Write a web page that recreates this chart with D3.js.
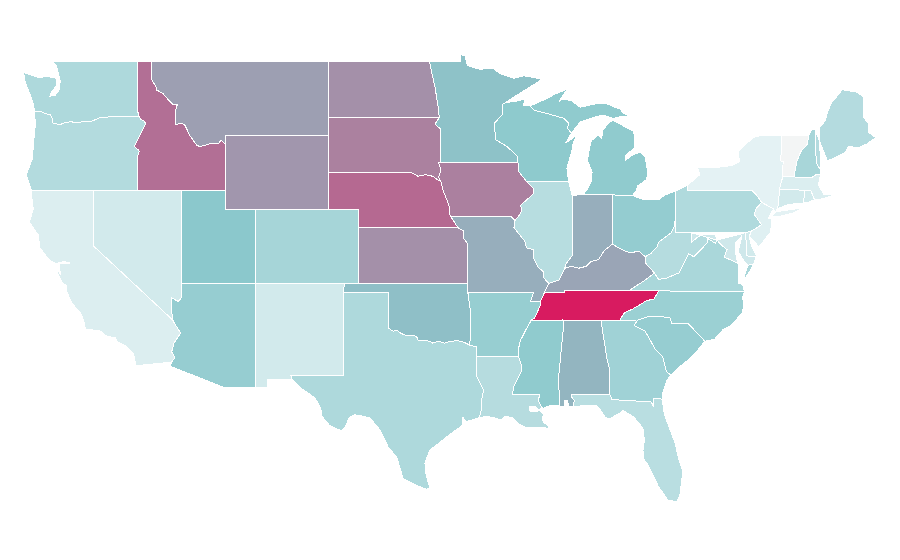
<!DOCTYPE html>
<html>
<head>
<meta charset="utf-8">
<script src="https://cdn.jsdelivr.net/npm/d3@7"></script>
<style>
html, body { margin: 0; padding: 0; background: #fff; }
svg { display: block; }
</style>
</head>
<body>
<svg id="map" width="900" height="560"></svg>
<script>
// values per state
const stateCodes = ['WA','OR','CA','NV','ID','MT','WY','UT','CO','AZ','NM','ND','SD','NE','KS','OK','TX','MN','IA','MO','AR','LA','WI','IL','IN','MI','OH','KY','TN','MS','AL','GA','FL','SC','NC','VA','WV','MD','DE','PA','NJ','NY','CT','RI','MA','VT','NH','ME'];
const stateValues = [13.4,12.6,4.9,6.7,61,39,43,20,15,18,6.7,46,53,64,46,24,13.4,22.8,53.5,32,17.8,12,19.4,11.7,32,19,18.4,36,100,19,28.8,16,11.4,18,17,14.2,12.2,7.3,6.7,13,4.3,3.4,6.7,6.7,5,0.4,14.6,12.3];
const colorStops = [0, 3, 20, 100];
const colorRange = ['#f5f5f5', '#e6f3f5', '#8bc8cc', '#d81b60'];

// shared borders, lon/lat
const waCoast = [[-123.98,46.25],[-124.1,46.7],[-124.2,47.0],[-124.65,47.9],[-124.73,48.38],[-123.77,48.12],[-123.1,48.15],[-122.55,48.1],[-122.5,47.7],[-122.9,47.25],[-122.95,47.1],[-122.6,47.15],[-122.35,47.4],[-122.25,47.9],[-122.5,48.7],[-122.76,49]];
const orCoast = [[-124.2,42],[-124.55,42.85],[-124.15,43.7],[-124.05,44.7],[-123.95,45.5],[-123.98,46.25]];
const caCoast = [[-117.12,32.53],[-117.3,33.2],[-117.85,33.6],[-118.43,33.85],[-118.5,34.03],[-119.2,34.15],[-119.56,34.42],[-120.55,34.5],[-120.65,34.9],[-120.85,35.35],[-121.45,35.9],[-121.8,36.5],[-121.8,36.85],[-122.05,36.95],[-122.4,37.45],[-122.5,37.75],[-122.25,37.5],[-122.3,37.9],[-122.3,38.05],[-121.6,38.08],[-122.0,38.17],[-122.5,38.05],[-122.95,38.2],[-123.63,38.9],[-123.75,39.6],[-124.35,40.3],[-124.08,41],[-124.2,41.75],[-124.2,42]];
const columbia = [[-123.98,46.25],[-123.55,46.26],[-123.4,46.2],[-123.2,46.15],[-122.9,46.08],[-122.8,45.9],[-122.75,45.65],[-122.3,45.55],[-121.9,45.68],[-121.5,45.72],[-121.2,45.65],[-120.65,45.73],[-120.2,45.72],[-119.6,45.92],[-119.1,45.93],[-118.98,46.0],[-116.92,46.0]];
const snake = [[-116.92,46.0],[-116.78,45.83],[-116.55,45.75],[-116.46,45.6],[-116.67,45.3],[-116.85,45.0],[-117.23,44.4],[-117.05,44.23],[-116.95,44.2],[-116.9,44.1],[-117.03,43.83],[-117.03,42]];
const idMt = [[-116.05,49],[-116.05,48],[-115.7,47.5],[-115.7,47.42],[-115.3,47.25],[-114.95,46.93],[-114.6,46.64],[-114.32,46.65],[-114.47,46.2],[-114.45,45.55],[-114.0,45.65],[-113.8,45.52],[-113.45,44.95],[-113.0,44.45],[-112.8,44.37],[-112.4,44.45],[-112.0,44.55],[-111.5,44.55],[-111.35,44.73],[-111.05,44.47]];
const azNv = [[-114.04,37],[-114.04,36.2],[-114.25,36.0],[-114.7,36.2],[-114.7,35.45],[-114.63,35.0]];
const azCa = [[-114.63,35.0],[-114.5,34.8],[-114.09,34.3],[-114.54,33.75],[-114.7,33.28],[-114.47,32.95],[-114.72,32.72]];
const redRiver = [[-97.23,49],[-97.1,48.5],[-96.85,47.6],[-96.6,46.35],[-96.56,45.94]];
const sdMn = [[-96.56,45.94],[-96.85,45.6],[-96.45,45.3],[-96.45,43.5]];
const sdIa = [[-96.45,43.5],[-96.6,43.5],[-96.45,43.1],[-96.6,42.7],[-96.45,42.49]];
const neNorth = [[-98.5,43],[-98.0,42.77],[-97.5,42.85],[-97.0,42.77],[-96.7,42.6],[-96.45,42.49]];
const nwIowa = [[-96.45,42.49],[-96.3,42.0],[-96.1,41.6],[-95.9,41.2],[-95.85,40.7],[-95.77,40.58]];
const moKs = [[-95.3,40],[-94.9,39.8],[-94.9,39.4],[-94.61,39.11],[-94.62,37]];
const okTx = [[-100,34.56],[-99.7,34.4],[-99.4,34.42],[-99.2,34.3],[-98.95,34.2],[-98.6,34.15],[-98.1,34.13],[-98.0,33.9],[-97.6,33.9],[-97.2,33.85],[-97.0,33.75],[-96.6,33.85],[-96.2,33.75],[-95.8,33.85],[-95.3,33.88],[-94.9,33.8],[-94.48,33.64]];
const txLa = [[-94.04,33.02],[-94.04,32],[-93.8,31.6],[-93.55,31.2],[-93.7,30.6],[-93.72,30.1],[-93.85,29.72]];
const txCoast = [[-93.85,29.72],[-94.75,29.5],[-94.95,29.75],[-95.0,29.3],[-96.05,28.69],[-96.8,28.2],[-97.2,27.97],[-97.53,27.27],[-97.45,26.6],[-97.2,25.93]];
const rioGrande = [[-97.2,25.93],[-97.4,25.85],[-98.1,26.05],[-99,26.42],[-99.45,27.6],[-100.0,28.1],[-100.57,29.05],[-101.25,29.7],[-101.6,29.78],[-102.3,29.88],[-102.7,29.7],[-102.9,29.25],[-103.17,29.02],[-103.5,29.1],[-104.0,29.3],[-104.5,29.78],[-104.6,30.25],[-105,30.8],[-105.9,31.3],[-106.53,31.78]];
const mnWi = [[-92.05,46.75],[-92.3,46.65],[-92.3,46.1],[-92.85,45.6],[-92.75,45.0],[-92.75,44.75],[-92.0,44.4],[-91.25,43.85],[-91.22,43.5]];
const wiIa = [[-91.22,43.5],[-91.15,43.0],[-90.65,42.5]];
const ilIa = [[-90.65,42.5],[-90.15,42.1],[-90.2,41.8],[-91.05,41.2],[-90.95,40.95],[-91.1,40.7],[-91.42,40.38]];
const moIl = [[-91.42,40.38],[-91.5,40.0],[-90.75,39.25],[-90.65,38.9],[-90.15,38.8],[-90.2,38.4],[-89.9,37.9],[-89.5,37.6],[-89.5,37.3],[-89.13,36.98]];
const arMs = [[-90.3,35],[-90.6,34.6],[-91.05,33.9],[-91.2,33.4],[-91.17,33]];
const laMs = [[-91.17,33],[-91.0,32.6],[-90.95,32.3],[-91.5,31.4],[-91.6,31.0],[-89.73,31.0],[-89.85,30.65],[-89.55,30.2]];
const laCoast = [[-89.55,30.2],[-89.85,30.18],[-90.1,30.35],[-90.45,30.3],[-90.4,30.08],[-90.0,30.05],[-89.75,30.1],[-89.45,29.9],[-89.6,29.7],[-89.45,29.45],[-89.2,29.3],[-89.05,29.1],[-89.5,29.2],[-90.0,29.2],[-90.75,29.2],[-91.2,29.4],[-91.55,29.7],[-92.1,29.8],[-92.33,29.6],[-92.9,29.72],[-93.34,29.8],[-93.85,29.72]];
const msCoast = [[-89.55,30.2],[-89.3,30.3],[-88.9,30.4],[-88.4,30.35]];
const msAl = [[-88.2,35],[-88.1,34.9],[-88.47,31.9],[-88.4,30.35]];
const alCoast = [[-88.4,30.35],[-88.1,30.35],[-88.05,30.65],[-87.9,30.65],[-87.75,30.3],[-87.5,30.3]];
const alFl = [[-87.5,30.3],[-87.4,30.65],[-87.6,30.85],[-87.6,31],[-85,31]];
const alGa = [[-85.6,34.98],[-85.18,32.87],[-85.0,32.3],[-85.05,31.55],[-85,31]];
const gaFl = [[-85,31],[-84.86,30.7],[-82.2,30.57],[-82.05,30.36],[-82.02,30.78],[-81.45,30.72]];
const flCoast = [[-87.5,30.3],[-86.5,30.4],[-85.9,30.4],[-85.6,30.1],[-85.3,29.75],[-85.05,29.65],[-84.35,29.95],[-84.1,30.1],[-83.4,29.78],[-82.75,29.15],[-82.65,28.5],[-82.75,27.97],[-82.7,27.5],[-82.4,27.15],[-81.7,26],[-81.05,25.26],[-80.46,25.18],[-80.25,25.5],[-80.05,26.8],[-80.4,27.7],[-80.55,28.3],[-80.9,29.05],[-81.3,29.9],[-81.45,30.72]];
const gaCoast = [[-81.45,30.72],[-81.4,31.1],[-81.15,31.7],[-80.85,32.03]];
const gaSc = [[-83.11,35],[-83.35,34.7],[-82.6,34.4],[-81.9,33.4],[-81.4,33.0],[-81.15,32.2],[-80.85,32.03]];
const scCoast = [[-80.85,32.03],[-80.45,32.35],[-79.9,32.7],[-79.25,33.15],[-78.55,33.85]];
const ncSc = [[-78.55,33.85],[-79.67,34.8],[-80.8,34.82],[-80.9,35.1],[-81.05,35.15],[-82.3,35.2],[-83.11,35]];
const ncTn = [[-84.32,34.99],[-84.0,35.4],[-83.5,35.57],[-83.0,35.8],[-82.5,36.05],[-82.0,36.13],[-81.68,36.59]];
const ncCoast = [[-75.87,36.55],[-76.0,36.2],[-75.9,35.9],[-76.0,35.4],[-76.5,34.95],[-76.9,34.65],[-77.3,34.5],[-77.9,33.95],[-78.55,33.85]];
const kyTn = [[-81.68,36.59],[-83.68,36.6],[-86,36.62],[-88.07,36.62],[-88.07,36.5],[-89.42,36.5]];
const ilKy = [[-89.13,36.98],[-88.45,37.15],[-88.05,37.8]];
const inKy = [[-88.05,37.8],[-87.6,37.9],[-87.1,37.8],[-86.6,37.9],[-86.3,38.15],[-85.75,38.27],[-85.4,38.73],[-84.82,39.1]];
const ohKy = [[-84.82,39.1],[-84.3,38.85],[-83.65,38.63],[-83.0,38.72],[-82.6,38.42]];
const kyWv = [[-82.6,38.42],[-82.6,38.1],[-81.97,37.54]];
const kyVa = [[-81.97,37.54],[-82.7,37.1],[-83.68,36.6]];
const ilIn = [[-88.05,37.8],[-87.95,38.05],[-87.53,38.5],[-87.5,39.35],[-87.53,41.7]];
const ohLake = [[-83.45,41.73],[-82.7,41.5],[-81.7,41.5],[-81.25,41.76],[-80.52,41.98]];
const ohWv = [[-80.52,40.64],[-80.65,40.0],[-80.85,39.7],[-81.7,39.2],[-81.75,39.0],[-82.2,38.6],[-82.6,38.42]];
const paEast = [[-75.35,42],[-75.05,41.75],[-74.7,41.36],[-75.1,41.0],[-75.2,40.7],[-74.7,40.15],[-75.4,39.8]];
const wvVa = [[-77.72,39.32],[-77.83,39.14],[-78.35,39.4],[-78.4,39.17],[-78.85,38.77],[-79.3,38.42],[-79.65,38.58],[-80.3,37.55],[-81.22,37.24],[-81.7,37.2],[-81.97,37.54]];
const wvMd = [[-79.48,39.72],[-79.48,39.2],[-79.05,39.47],[-78.75,39.6],[-78.35,39.65],[-77.83,39.6],[-77.72,39.32]];
const potomac = [[-77.72,39.32],[-77.5,39.1],[-77.05,38.8],[-77.25,38.4],[-76.95,38.3],[-76.3,38.05]];
const deWest = [[-75.79,39.72],[-75.7,38.46],[-75.05,38.45]];
const deBay = [[-75.05,38.45],[-75.4,39.05],[-75.55,39.5],[-75.4,39.8]];
const nyVt = [[-73.35,45],[-73.35,44.2],[-73.43,43.6],[-73.25,43.55],[-73.27,42.75]];
const vtNh = [[-71.5,45],[-71.6,44.5],[-72.05,44.1],[-72.3,43.6],[-72.45,43.0],[-72.46,42.73]];
const nhMe = [[-70.7,43.08],[-71.0,43.5],[-71.08,45.3]];
const nhMa = [[-72.46,42.73],[-71.3,42.7],[-71.0,42.87],[-70.7,42.87]];
const miWi = [[-90.4,46.57],[-90.1,46.33],[-89.1,46.13],[-88.1,45.9],[-87.8,45.65],[-87.85,45.35],[-87.6,45.1]];

const rev = arc => arc.slice().reverse();
const ring = (...parts) => parts.flat();

// outlines of the states, each a list of rings
const stateRings = {
  WA: [ring(waCoast, [[-117.04,49],[-117.04,46.42]], rev(columbia))],
  OR: [ring(orCoast, columbia, snake, [[-120,42]])],
  CA: [ring(caCoast, [[-120,42],[-120,39]], azCa)],
  NV: [ring([[-120,42],[-114.04,42]], azNv, [[-120,39]])],
  ID: [ring([[-117.04,49]], idMt, [[-111.05,42]], rev(snake), [[-117.04,46.42]])],
  MT: [ring([[-104.05,49],[-104.05,45],[-111.05,45]], rev(idMt))],
  WY: [[[-111.05,45],[-104.05,45],[-104.05,41],[-111.05,41]]],
  UT: [[[-114.04,42],[-111.05,42],[-111.05,41],[-109.05,41],[-109.05,37],[-114.04,37]]],
  CO: [[[-109.05,41],[-102.05,41],[-102.05,37],[-109.05,37]]],
  AZ: [ring([[-114.04,37],[-109.05,37],[-109.05,31.33],[-111.07,31.33],[-114.8,32.5]], rev(azCa), rev(azNv))],
  NM: [[[-109.05,37],[-103,37],[-103.04,36.5],[-103.06,32],[-106.62,32],[-106.53,31.78],[-108.2,31.78],[-108.2,31.33],[-109.05,31.33]]],
  ND: [ring([[-104.05,49]], redRiver, [[-104.05,45.94]])],
  SD: [ring([[-104.05,45.94]], sdMn, sdIa, rev(neNorth), [[-104.05,43]])],
  NE: [ring([[-104.05,43]], neNorth, nwIowa, [[-95.3,40],[-102.05,40],[-102.05,41],[-104.05,41]])],
  KS: [ring([[-102.05,40]], moKs, [[-102.05,37]])],
  OK: [ring([[-103,37],[-94.62,37],[-94.62,36.5],[-94.43,35.4]], rev(okTx), [[-100,36.5],[-103.04,36.5]])],
  TX: [ring([[-103.04,36.5],[-100,36.5]], okTx, [[-94.04,33.55]], txLa, txCoast, rioGrande, [[-106.62,32],[-103.06,32]])],
  MN: [ring([[-97.23,49],[-95.15,49],[-95.15,49.35],[-94.82,49.3],[-94.65,48.75],[-93.8,48.55],[-92.95,48.62],[-92.4,48.3],[-91.5,48.07],[-90.8,48.2],[-90.1,48.1],[-89.6,48.0],[-90.9,47.35],[-91.6,47.0]], mnWi, [[-96.45,43.5]], rev(sdMn), rev(redRiver))],
  IA: [ring([[-96.45,43.5]], wiIa, ilIa, [[-91.73,40.61]], rev(nwIowa), rev(sdIa))],
  MO: [ring([[-95.77,40.58],[-91.73,40.61]], moIl, [[-89.42,36.5],[-89.7,36],[-90.38,36],[-90.15,36.5],[-94.62,36.5]], rev(moKs))],
  AR: [ring([[-94.62,36.5],[-90.15,36.5],[-90.38,36],[-89.7,36],[-89.7,35.8],[-90.1,35.1]], arMs, [[-94.04,33.02],[-94.04,33.55],[-94.48,33.64],[-94.43,35.4]])],
  LA: [ring([[-94.04,33.02]], laMs, laCoast, rev(txLa))],
  WI: [ring([[-92.05,46.75],[-91.2,46.85],[-90.75,46.95],[-90.85,46.6]], miWi, [[-88.0,44.55],[-87.4,44.9],[-87.15,45.2],[-87.5,44.5],[-87.55,44.2],[-87.9,43.2],[-87.8,42.5]], rev(wiIa), rev(mnWi))],
  IL: [ring([[-90.65,42.5],[-87.8,42.5]], rev(ilIn), rev(ilKy), rev(moIl), rev(ilIa))],
  IN: [ring(ilIn, [[-87.2,41.76],[-84.81,41.76]], rev(inKy))],
  MI: [
    [[-86.82,41.76],[-86.5,42.1],[-86.25,42.5],[-86.2,43.0],[-86.5,43.6],[-86.45,44.0],[-86.25,44.7],[-85.75,45.0],[-85.55,44.8],[-85.45,45.3],[-85.0,45.7],[-84.75,45.78],[-84.1,45.5],[-83.4,45.2],[-83.3,44.85],[-83.35,44.3],[-83.9,43.9],[-83.9,43.65],[-83.4,43.95],[-82.95,44.07],[-82.6,43.8],[-82.42,43.0],[-82.5,42.6],[-83.1,42.25],[-83.2,42.0],[-83.45,41.73],[-84.81,41.76]],
    ring(rev(miWi), [[-89.6,46.85],[-88.6,47.25],[-87.9,47.47],[-88.45,46.8],[-88.2,46.95],[-87.6,46.85],[-87.0,46.5],[-86.1,46.67],[-85.3,46.72],[-84.5,46.45],[-84.3,46.4],[-84.1,46.2],[-83.6,46.0],[-84.3,45.98],[-84.75,45.9],[-85.5,46.08],[-86.3,45.9],[-87.0,45.7]]),
    [[-89.2,47.85],[-88.45,48.15],[-88.9,47.95]]
  ],
  OH: [ring([[-84.81,41.76]], ohLake, ohWv, rev(ohKy))],
  KY: [ring(ilKy, inKy, ohKy, kyWv, kyVa, [[-86,36.62],[-88.07,36.62],[-88.07,36.5],[-89.42,36.5]])],
  TN: [ring(kyTn, [[-89.7,36],[-89.7,35.8],[-90.1,35.1],[-90.3,35],[-88.2,35],[-85.6,34.98]], ncTn)],
  MS: [ring([[-90.3,35]], msAl, rev(msCoast), rev(laMs), rev(arMs))],
  AL: [ring(alGa, rev(alFl), rev(alCoast), rev(msAl))],
  GA: [ring([[-85.6,34.98]], gaSc, rev(gaCoast), rev(gaFl), rev(alGa))],
  FL: [ring(gaFl, rev(flCoast), alFl)],
  SC: [ring(gaSc, scCoast, ncSc)],
  NC: [ring(ncTn, [[-80,36.54]], ncCoast, ncSc, [[-84.32,34.99]])],
  VA: [
    ring([[-83.68,36.6],[-81.68,36.59],[-80,36.54],[-75.87,36.55],[-76.0,36.92],[-76.3,37.0],[-76.3,37.55],[-76.25,37.9]], rev(potomac), wvVa, kyVa),
    [[-75.25,38.03],[-75.65,37.95],[-75.95,37.15],[-75.6,37.5]]
  ],
  WV: [ring([[-80.52,39.72]], wvMd, wvVa, rev(kyWv), rev(ohWv))],
  MD: [ring(rev(wvMd), potomac, [[-76.4,38.3],[-76.5,38.8],[-76.45,39.2],[-76.1,39.5],[-76.1,39.35],[-76.3,38.7],[-75.9,38.2],[-75.65,37.95],[-75.25,38.03]], rev(deWest))],
  DE: [ring(deWest, deBay)],
  PA: [ring([[-80.52,41.98],[-79.76,42.27],[-79.76,42]], paEast, [[-75.79,39.72],[-80.52,39.72],[-80.52,40.64]])],
  NJ: [[[-74.7,41.36],[-73.9,41.0],[-74.25,40.5],[-74.0,40.45],[-74.1,39.75],[-74.9,38.93],[-75.15,39.2],[-75.55,39.5],[-75.4,39.8],[-74.7,40.15],[-75.2,40.7],[-75.1,41.0]]],
  NY: [
    ring([[-79.76,42],[-79.76,42.27],[-78.9,42.85],[-79.05,43.27],[-77.5,43.27],[-76.7,43.35],[-76.2,43.55],[-76.3,44.1],[-75.3,44.85],[-74.7,45]], nyVt, [[-73.5,42.05],[-73.55,41.3],[-73.65,41],[-73.8,40.8],[-73.9,41]], [[-74.7,41.36],[-75.05,41.75],[-75.35,42]]),
    [[-74.0,40.6],[-73.75,40.85],[-72.6,40.98],[-71.9,41.07],[-72.5,40.8],[-73.5,40.6]]
  ],
  CT: [[[-73.5,42.05],[-71.8,42.02],[-71.85,41.32],[-72.9,41.25],[-73.65,41],[-73.55,41.3]]],
  RI: [[[-71.8,42.02],[-71.38,42.02],[-71.12,41.5],[-71.5,41.37],[-71.85,41.32]]],
  MA: [ring([[-73.5,42.05],[-73.27,42.75]], nhMa, [[-70.85,42.3],[-70.6,41.95],[-70.5,41.8],[-70.0,41.8],[-70.2,42.07],[-69.95,41.7],[-70.6,41.55],[-71.12,41.5],[-71.38,42.02],[-71.8,42.02]])],
  VT: [ring([[-73.35,45]], vtNh, rev(nyVt))],
  NH: [ring(vtNh, nhMa, nhMe, [[-71.3,45.3]])],
  ME: [ring(rev(nhMe), [[-70.8,45.4],[-70.4,45.75],[-70.25,46.2],[-70.0,46.7],[-69.23,47.46],[-69.0,47.4],[-68.35,47.35],[-67.8,47.07],[-67.78,45.95],[-67.45,45.6],[-67.45,45.15],[-66.97,44.85],[-67.6,44.5],[-68.2,44.3],[-68.8,44.4],[-69.05,44.05],[-69.8,43.75],[-70.25,43.6]])]
};

const svg = d3.select('#map');

// plain linear lon/lat scales, the picture is not a true map projection
const x = d3.scaleLinear().domain([-120, -67]).range([93.5, 875.25]);
const y = d3.scaleLinear().domain([49, 31]).range([61, 394]);
const color = d3.scaleLinear().domain(colorStops).range(colorRange);

const path = d3.geoPath().projection(d3.geoTransform({
  point(lon, lat) { this.stream.point(x(lon), y(lat)); }
}));

const features = stateCodes.map((code, i) => ({
  type: 'Feature',
  properties: { code, value: stateValues[i] },
  geometry: { type: 'MultiPolygon', coordinates: stateRings[code].map(r => [r.concat([r[0]])]) }
}));

svg.append('g')
  .selectAll('path')
  .data(features)
  .enter()
  .append('path')
  .attr('d', path)
  .attr('fill', d => color(d.properties.value))
  .attr('stroke', '#fff')
  .attr('stroke-width', 1)
  .attr('shape-rendering', 'crispEdges');
</script>
</body>
</html>
